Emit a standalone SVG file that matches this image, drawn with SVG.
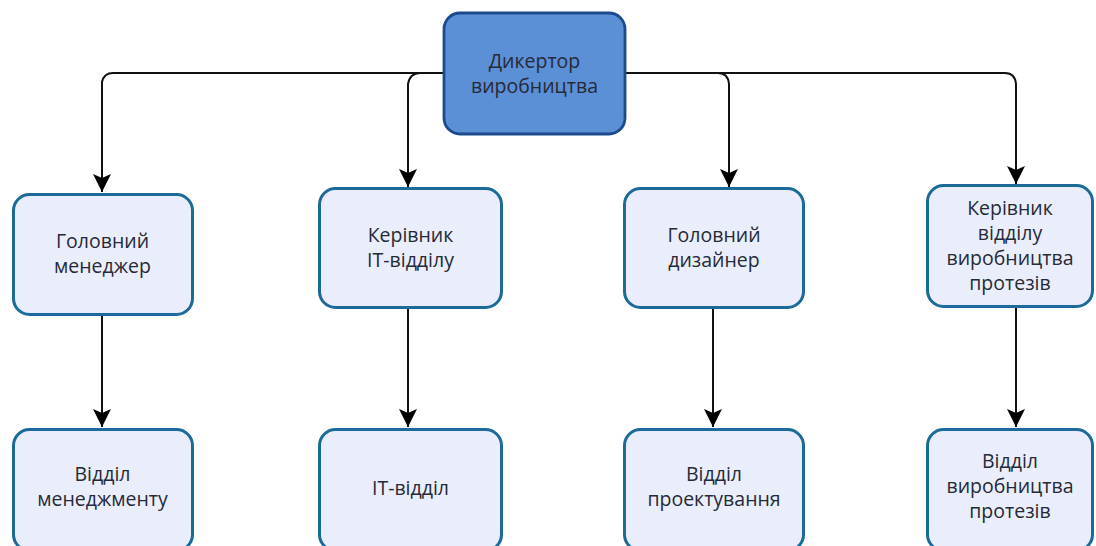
<svg xmlns="http://www.w3.org/2000/svg" width="1096" height="546" viewBox="0 0 1096 546">
  <style>
    .root { fill: #5b8fd6; stroke: #1d4a8c; stroke-width: 2.8; }
    .box { fill: #eaeefc; stroke: #1b6a98; stroke-width: 3; }
    .lbl { font-family: "Open Sans", "Noto Sans", sans-serif; font-size: 19.5px; fill: #262a36; text-anchor: middle; }
    .wire { fill: none; stroke: #111; stroke-width: 2; }
  </style>
  <defs>
    <marker id="arrow" viewBox="0 0 18 18" refX="18" refY="9" markerWidth="18" markerHeight="18" markerUnits="userSpaceOnUse" orient="auto">
      <path d="M0,0 L18,9 L0,18 L4,9 Z" fill="#000"/>
    </marker>
  </defs>
  <rect width="1096" height="546" fill="#ffffff"/>

  <g id="connectors">
    <path class="wire" d="M444,73 H113 Q104,73 102,82 V192" marker-end="url(#arrow)"/>
    <path class="wire" d="M444,73 H420 Q410,73 408,84 V187" marker-end="url(#arrow)"/>
    <path class="wire" d="M625,73 H718 Q728,73 729,84 V187" marker-end="url(#arrow)"/>
    <path class="wire" d="M625,73 H1005 Q1015,73 1016,84 V184" marker-end="url(#arrow)"/>
    <path class="wire" d="M102,315 V427" marker-end="url(#arrow)"/>
    <path class="wire" d="M408,309 V427" marker-end="url(#arrow)"/>
    <path class="wire" d="M713,309 V427" marker-end="url(#arrow)"/>
    <path class="wire" d="M1016,308 V427" marker-end="url(#arrow)"/>
  </g>

  <g id="director">
    <rect class="root" x="444" y="13" width="181" height="121" rx="16"/>
    <text class="lbl" x="534.5" y="68">Дикертор</text>
    <text class="lbl" x="534.5" y="93">виробництва</text>
  </g>

  <g id="head-manager">
    <rect class="box" x="13.5" y="194.5" width="179" height="120" rx="16"/>
    <text class="lbl" x="102.5" y="248">Головний</text>
    <text class="lbl" x="102.5" y="273">менеджер</text>
  </g>

  <g id="it-head">
    <rect class="box" x="319.5" y="188.5" width="182" height="119" rx="16"/>
    <text class="lbl" x="410.5" y="242">Керівник</text>
    <text class="lbl" x="410.5" y="267">IT-відділу</text>
  </g>

  <g id="head-designer">
    <rect class="box" x="624.5" y="188.5" width="179" height="119" rx="16"/>
    <text class="lbl" x="714" y="242">Головний</text>
    <text class="lbl" x="714" y="267">дизайнер</text>
  </g>

  <g id="production-head">
    <rect class="box" x="927.5" y="185.5" width="165" height="121" rx="16"/>
    <text class="lbl" x="1010" y="215">Керівник</text>
    <text class="lbl" x="1010" y="240">відділу</text>
    <text class="lbl" x="1010" y="265">виробництва</text>
    <text class="lbl" x="1010" y="290">протезів</text>
  </g>

  <g id="management-dept">
    <rect class="box" x="13.5" y="429.5" width="179" height="121" rx="16"/>
    <text class="lbl" x="102.5" y="481">Відділ</text>
    <text class="lbl" x="102.5" y="506">менеджменту</text>
  </g>

  <g id="it-dept">
    <rect class="box" x="319.5" y="429.5" width="182" height="121" rx="16"/>
    <text class="lbl" x="410.5" y="495">IT-відділ</text>
  </g>

  <g id="design-dept">
    <rect class="box" x="624.5" y="429.5" width="179" height="121" rx="16"/>
    <text class="lbl" x="714" y="481">Відділ</text>
    <text class="lbl" x="714" y="506">проектування</text>
  </g>

  <g id="production-dept">
    <rect class="box" x="927.5" y="429.5" width="165" height="121" rx="16"/>
    <text class="lbl" x="1010" y="468">Відділ</text>
    <text class="lbl" x="1010" y="493">виробництва</text>
    <text class="lbl" x="1010" y="518">протезів</text>
  </g>
</svg>
